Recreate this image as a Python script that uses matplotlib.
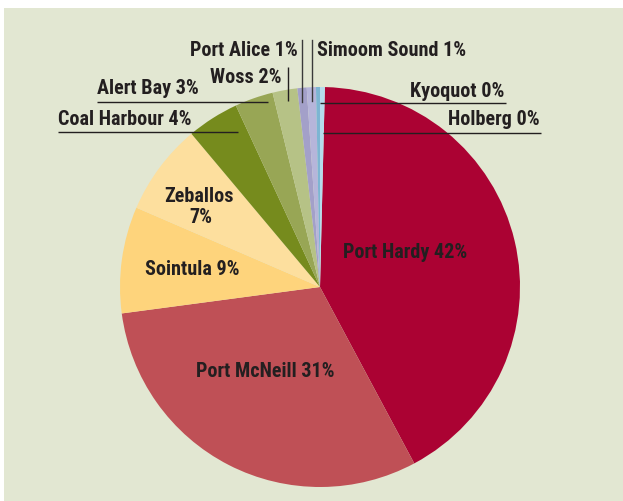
import matplotlib
matplotlib.use("Agg")
import matplotlib.pyplot as plt
from matplotlib.patches import Rectangle

W, H = 623, 501
BG = "#e2e7d2"
INK = "#231f20"

# slice data, clockwise from the top
towns = ["Port Hardy", "Port McNeill", "Sointula", "Zeballos", "Coal Harbour",
         "Alert Bay", "Woss", "Port Alice", "Simoom Sound", "Kyoquot", "Holberg"]
shares = [41.8, 30.7, 8.6, 7.4, 4.2, 3.1, 2.0, 0.75, 0.74, 0.32, 0.39]
pct_labels = ["42%", "31%", "9%", "7%", "4%", "3%", "2%", "1%", "1%", "0%", "0%"]
colors = ["#ab0233", "#bf5056", "#fed47c", "#fddf9e", "#768b1d",
          "#98a655", "#b6c286", "#a3a0c9", "#b6b5da", "#7cb5d3", "#b5dcec"]

plt.rcParams['font.family'] = ['Roboto Condensed', 'DejaVu Sans']

fig = plt.figure(figsize=(W / 100, H / 100), dpi=100, facecolor="white")
ax = fig.add_axes([0, 0, 1, 1])


def py(y):
    # pixel row (from top) -> data y
    return H - y


ax.add_patch(Rectangle((4, 0), W - 4, H - 8, facecolor=BG, edgecolor="none", zorder=0))

cx, cy, r = 320, 287, 200
ax.pie(shares, colors=colors, startangle=88.6, counterclock=False,
       center=(cx, py(cy)), radius=r, frame=True,
       wedgeprops=dict(linewidth=0, edgecolor="none"))
ax.set_xlim(0, W)
ax.set_ylim(0, H)
ax.set_aspect("equal")
ax.axis("off")

fs = 14.5
tkw = dict(fontsize=fs, fontweight="bold", color=INK, va="baseline", zorder=5)


def lab(i):
    return f"{towns[i]} {pct_labels[i]}"


# labels inside the pie
ax.text(405.5, py(258.3), lab(0), ha="center", **tkw)
ax.text(265, py(376.7), lab(1), ha="center", **tkw)
ax.text(192, py(275), lab(2), ha="center", **tkw)
ax.text(199, py(201.7), towns[3], ha="center", **tkw)
ax.text(201, py(222.7), pct_labels[3], ha="center", **tkw)

# outside labels with leader lines
lk = dict(color=INK, lw=1.0, zorder=4, solid_capstyle="butt")
ax.text(58, py(125), lab(4), ha="left", **tkw)
ax.plot([58, 238], [py(132), py(132)], **lk)
ax.text(97, py(94.3), lab(5), ha="left", **tkw)
ax.plot([97, 268], [py(102.3), py(102.3)], **lk)
ax.text(281, py(82.7), lab(6), ha="right", **tkw)
ax.plot([287.7, 287.7], [py(67.3), py(101)], **lk)
ax.text(297.3, py(56), lab(7), ha="right", **tkw)
ax.plot([301.7, 301.7], [py(40), py(101.7)], color="#3a3a3a", lw=1.0, zorder=4)
ax.text(316.7, py(55.7), lab(8), ha="left", **tkw)
ax.plot([312.3, 312.3], [py(40), py(101)], color="#3a3a3a", lw=1.0, zorder=4)
ax.text(504, py(96.7), lab(9), ha="right", **tkw)
ax.plot([320, 506], [py(103.3), py(103.3)], **lk)
ax.text(540, py(125), lab(10), ha="right", **tkw)
ax.plot([322.7, 541], [py(132.7), py(132.7)], **lk)

fig.savefig("out.png", dpi=100, facecolor="white")
